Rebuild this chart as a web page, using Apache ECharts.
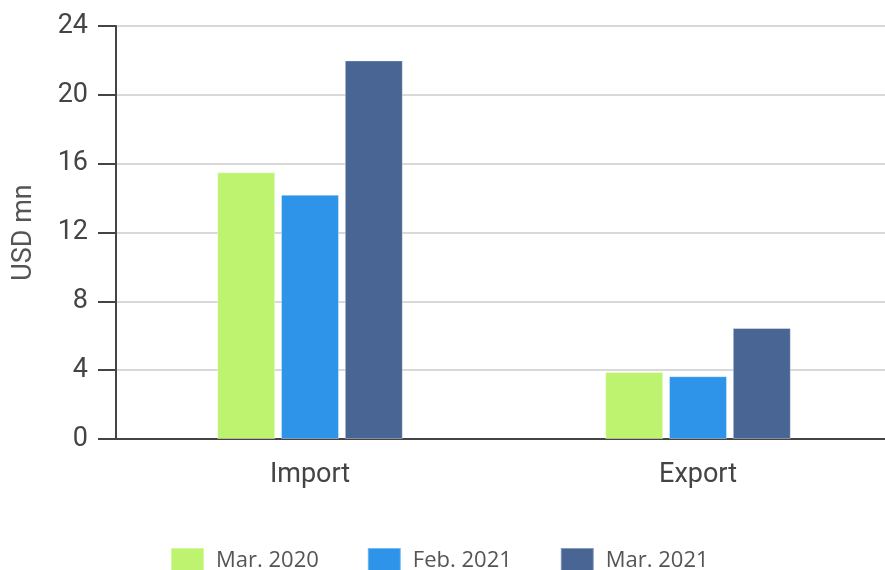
<!DOCTYPE html>
<html>
<head>
<meta charset="utf-8">
<script src="https://cdn.jsdelivr.net/npm/echarts@6/dist/echarts.min.js"></script>
<style>html,body{margin:0;padding:0;background:#fff;overflow:hidden;width:885px;height:570px;}#c{width:900px;height:570px;}</style>
</head>
<body>
<div id="c"></div>
<script>
const categories = ['Import', 'Export'];
const seriesNames = ['Mar. 2020', 'Feb. 2021', 'Mar. 2021'];
const mar2020 = [15.5, 3.9];
const feb2021 = [14.2, 3.65];
const mar2021 = [22.0, 6.45];
const yTicks = [0, 4, 8, 12, 16, 20, 24];
const colors = ['#bdf36f', '#2e94ea', '#486594'];

const chart = echarts.init(document.getElementById('c'));
const values = [mar2020, feb2021, mar2021];
chart.setOption({
  animation: false,
  color: colors,
  textStyle: { fontFamily: 'Roboto' },
  grid: { left: 116, top: 26, width: 776, height: 413, containLabel: false },
  legend: {
    top: 547, left: 170, padding: 0,
    itemWidth: 33, itemHeight: 26, itemGap: 48,
    icon: 'rect',
    formatter: '{a|{name}}{b|}',
    textStyle: {
      fontFamily: 'Open Sans', fontSize: 22, color: '#555',
      rich: {
        a: { fontFamily: 'Open Sans', fontSize: 22, color: '#555', lineHeight: 22, verticalAlign: 'top', padding: [0, 0, 0, 7] },
        b: { height: 22, width: 0 }
      }
    },
    data: seriesNames
  },
  xAxis: {
    type: 'category',
    data: categories,
    axisLine: { lineStyle: { color: '#444', width: 2 } },
    axisTick: { alignWithLabel: true, length: 18, lineStyle: { color: '#444', width: 2 } },
    axisLabel: { fontSize: 27, color: '#444', margin: 23, fontFamily: 'Roboto' }
  },
  yAxis: {
    type: 'value',
    min: yTicks[0], max: yTicks[yTicks.length - 1], interval: 4,
    name: 'USD mn', nameLocation: 'middle', nameGap: 78,
    nameTextStyle: { fontSize: 27, color: '#555', fontFamily: 'Roboto' },
    axisLine: { show: true, lineStyle: { color: '#444', width: 2 } },
    axisTick: { show: true, length: 18, lineStyle: { color: '#444', width: 2 } },
    axisLabel: { fontSize: 27, color: '#444', margin: 28, fontFamily: 'Roboto' },
    splitLine: { lineStyle: { color: '#d9d9d9', width: 2 } }
  },
  series: seriesNames.map((n, i) => ({
    name: n, type: 'bar', data: values[i],
    barWidth: 58, barGap: '10%',
    itemStyle: { borderColor: 'rgba(255,255,255,0.35)', borderWidth: 1 }
  }))
});
</script>
</body>
</html>
